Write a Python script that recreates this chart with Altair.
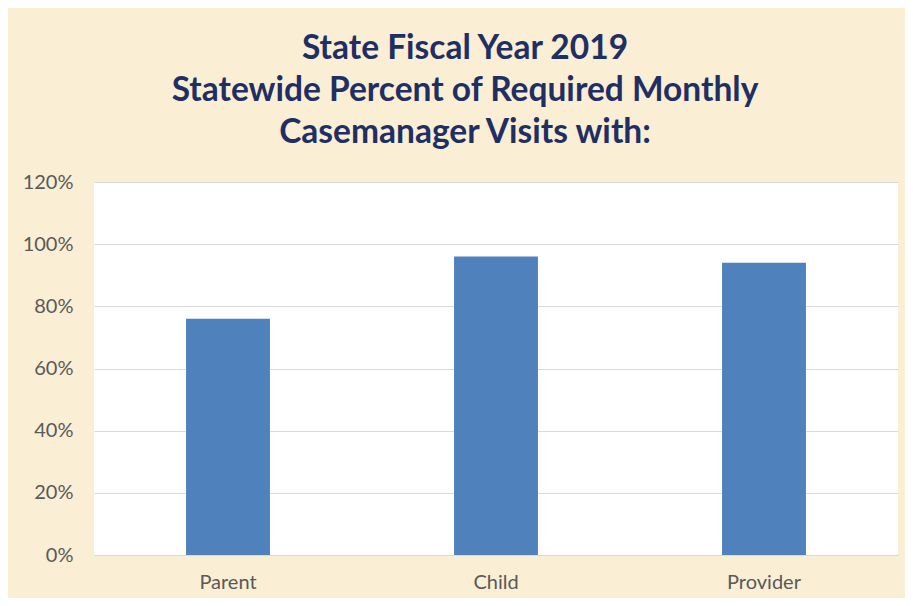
import altair as alt
import pandas as pd

categories = ["Parent", "Child", "Provider"]
values = [0.76, 0.96, 0.94]
y_ticks = [0, 0.2, 0.4, 0.6, 0.8, 1.0, 1.2]
title_lines = [
    "State Fiscal Year 2019",
    "Statewide Percent of Required Monthly",
    "Casemanager Visits with:",
]

df = pd.DataFrame({"category": categories, "value": values})

chart = (
    alt.Chart(df)
    .mark_bar(color="#4F81BD")
    .encode(
        x=alt.X(
            "category:N",
            sort=categories,
            title=None,
            scale=alt.Scale(paddingInner=0.687, paddingOuter=0.3435),
            axis=alt.Axis(
                labelAngle=0,
                labelFont="Lato",
                labelFontSize=20,
                labelColor="#595959",
                labelPadding=17,
                ticks=False,
                domain=True,
                domainColor="#D9D9D9",
                grid=False,
            ),
        ),
        y=alt.Y(
            "value:Q",
            title=None,
            scale=alt.Scale(domain=[0, 1.2], nice=False),
            axis=alt.Axis(
                values=y_ticks,
                format=".0%",
                labelFont="Lato",
                labelFontSize=20,
                labelColor="#595959",
                labelPadding=21,
                ticks=False,
                domain=False,
                grid=True,
                gridColor="#D9D9D9",
                gridWidth=1,
            ),
        ),
    )
    .properties(
        width=804,
        height=373,
        autosize=alt.AutoSizeParams(type="none"),
        padding={"left": 86, "top": 174, "right": 7, "bottom": 43},
        background="#FAEED4",
        title=alt.TitleParams(
            text=title_lines,
            font="Lato",
            fontSize=33.5,
            fontWeight="bold",
            color="#1F2F63",
            lineHeight=42,
            anchor="middle",
            dx=-31,
            offset=22,
        ),
    )
    .configure_view(fill="white", stroke=None)
)

chart.save("out.html", embed_options={"renderer": "svg", "actions": False})
